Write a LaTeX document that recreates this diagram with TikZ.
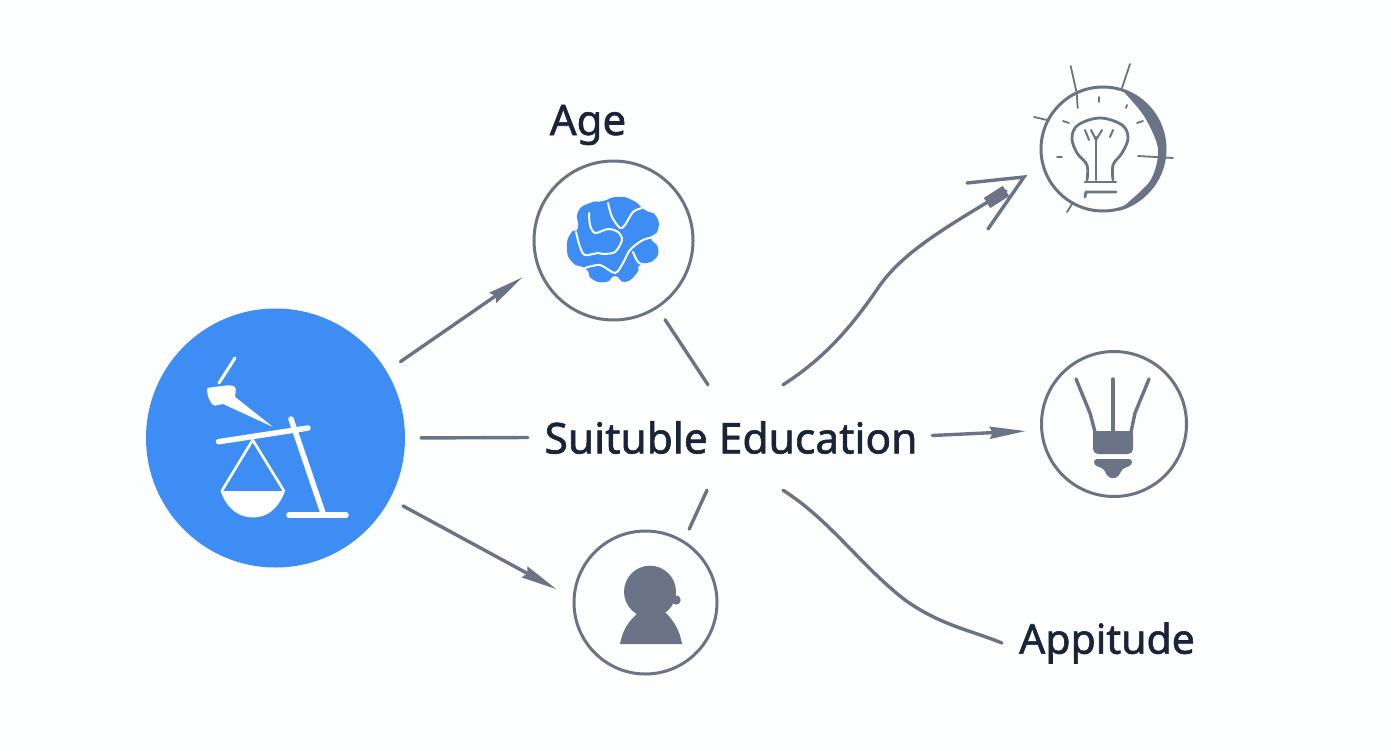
\documentclass[tikz,border=0pt]{standalone}
\usepackage{fontspec}
\setmainfont{Noto Sans}[FakeBold=1.4]
\usepackage{xcolor}
\usetikzlibrary{arrows.meta, positioning, calc}
\definecolor{bgcolor}{RGB}{253, 254, 254}
\definecolor{bluecolor}{RGB}{62, 141, 245}
\definecolor{linecolor}{RGB}{107, 116, 134}
\definecolor{textcolor}{RGB}{26, 36, 56}
\tikzset{
    ring/.style={draw=linecolor, line width=3pt, circle, inner sep=0pt, outer sep=0pt},
    link/.style={draw=linecolor, line width=3.4pt, line cap=round},
    linkarrow/.style={link, -{Stealth[length=36pt, width=12pt, inset=3pt]}},
    label/.style={text=textcolor, inner sep=0pt, font=\fontsize{42}{50}\selectfont},
    thinline/.style={draw=linecolor, line width=2.8pt, line cap=round, line join=round},
    wline/.style={draw=white, line cap=round}
}
\begin{document}
\begin{tikzpicture}[x=1pt, y=-1pt]
    \useasboundingbox (0, 0) rectangle (1392, 752);
    \fill[bgcolor] (0, 0) rectangle (1392, 752);

    % Nodes
    \node[circle, fill=bluecolor, inner sep=0pt, outer sep=0pt, minimum size=259pt] (scales) at (275.5, 438) {};
    \node[ring, minimum size=159pt] (age) at (613.5, 240.5) {};
    \node[ring, minimum size=143pt] (person) at (645.5, 602.5) {};
    \node[ring, minimum size=124pt] (bulbtop) at (1103, 149) {};
    \node[ring, minimum size=145pt] (bulbright) at (1114, 424) {};
    \node[label, font=\fontsize{42.5}{50}\selectfont, minimum width=402pt, minimum height=105pt] (edu) at (731, 437.5) {Suituble Education};
    \node[label] (agelabel) at (588, 125) {Age};
    \node[label, font=\fontsize{41}{50}\selectfont, inner xsep=17pt] (appitude) at (1107, 643) {Appitude};

    % Free ends on the text
    \coordinate (eduup) at ([xshift=-23pt]edu.north);
    \coordinate (eduupright) at ([xshift=52pt]edu.north);
    \coordinate (edudown) at ([xshift=-24pt]edu.south);
    \coordinate (edudownright) at ([xshift=52pt]edu.south);
    \coordinate (bulbtip) at (1024, 177);
    \coordinate (bulbblob) at (1006, 191);

    % Straight connectors
    \draw[linkarrow, shorten <=17pt, shorten >=19pt] (scales.31) -- (age.199);
    \draw[link, shorten <=16pt, shorten >=2pt] (scales.0) -- (edu.west);
    \draw[linkarrow, shorten <=15pt, shorten >=20pt] (scales.-28) -- (person.177);
    \draw[link, shorten <=15pt] (age.-57) -- (eduup);
    \draw[link, shorten <=14pt] (person.58) -- (edudown);
    \draw[linkarrow, shorten >=16pt] ([yshift=2pt]edu.east) -- (bulbright.185);

    % Curved connectors
    \draw[link] (eduupright) .. controls (825, 358) and (852, 326) .. (878, 288)
        .. controls (903, 251) and (950, 225) .. (bulbblob);
    \draw[link, line width=12pt, line cap=butt] (987, 203) -- (bulbblob);
    \draw[link, line join=miter] (967, 183) -- (bulbtip) -- (988, 229);
    \draw[link] (edudownright) .. controls (830, 520) and (860, 565) .. (905, 600)
        .. controls (940, 625) and (970, 630) .. (appitude.west);

    % Scales icon
    \draw[wline, line width=5.5pt] (218.5, 441.7) -- (308, 428);
    \draw[wline, line width=5.5pt] (291, 419) -- (323, 513);
    \draw[wline, line width=5.5pt] (289, 515) -- (346, 515);
    \draw[wline, line width=2.6pt] (221.7, 491) -- (252.7, 440) -- (284, 491);
    \fill[white] (220.7, 491) -- (285, 491) .. controls (278, 510) and (266, 517.5) .. (253, 517.5)
        .. controls (240, 517.5) and (227, 510) .. cycle;
    \fill[white, rounded corners=2pt] (206.7, 388) -- (230, 385) -- (236, 387) -- (235, 398) -- (223, 404)
        -- (213, 406) -- (208, 397) -- cycle;
    \fill[white] (234, 396) -- (273, 427) -- (221, 403) -- cycle;
    \draw[wline, line width=3pt] (219, 383) -- (235, 358);

    % Brain icon
    \fill[bluecolor] plot[smooth cycle, tension=1] coordinates {(617, 197) (632, 200) (645, 210) (656, 216)
        (658, 230) (651, 238) (658, 248) (654, 260) (640, 265) (637, 273) (625, 282) (615, 276)
        (606, 282) (592, 279) (586, 269) (572, 262) (567, 247) (571, 233) (578, 228) (578, 212) (590, 203) (603, 201)};
    \draw[wline, line width=2pt] plot[smooth] coordinates {(608, 203) (612, 217) (620, 228) (625, 225) (633, 212) (642, 208)};
    \draw[wline, line width=2pt] plot[smooth] coordinates {(589, 213) (590, 225) (595, 233) (608, 229) (618, 232)
        (622, 240) (615, 252) (603, 254) (598, 253) (585, 255) (580, 247) (576, 232)};
    \draw[wline, line width=2pt] plot[smooth] coordinates {(658, 236) (643, 240) (630, 250) (623, 263) (615, 273) (600, 265) (585, 268)};
    \draw[wline, line width=2pt] plot[smooth] coordinates {(633, 252) (638, 262) (645, 265)};

    % Lamp icon with rays
    \fill[linecolor] (bulbtop.72) arc[start angle=72, end angle=-75, radius=63pt]
        -- plot[smooth] coordinates {(1119, 210) (1150, 181) (1158, 149) (1144, 116) (1122, 90)} -- cycle;
    \draw[thinline, line width=1.8pt] (1070.7, 66) -- (1076.7, 93) -- (1077.7, 108);
    \draw[thinline, line width=1.8pt] (1130, 64) -- (1122, 88);
    \draw[thinline, line width=1.8pt] (1034, 117) -- (1047, 120);
    \draw[thinline, line width=1.8pt] (1138, 156) -- (1173, 158);
    \draw[thinline, line width=1.8pt] (1072, 204) -- (1067, 212);
    \foreach \ax/\ay/\bx/\by in {1099/97/1099/102, 1127/105/1126/108, 1063/121/1069/123, 1143/121/1137/123, 1057/157/1062/157} {
        \draw[thinline, line width=1.8pt] (\ax, \ay) -- (\bx, \by);
    }
    \draw[thinline] plot[smooth, tension=0.6] coordinates {(1087, 180) (1087, 165) (1077, 153) (1072, 138) (1078, 125)
        (1100, 118) (1122, 125) (1128, 138) (1122, 153) (1113, 165) (1113, 180)};
    \draw[thinline] (1085, 182) -- (1116, 182);
    \draw[thinline] (1085, 197) -- (1086, 192) -- (1116, 192);
    \draw[thinline] (1096, 137) -- (1096, 180);
    \draw[thinline, line width=2pt] (1085, 130) -- (1089, 140);
    \draw[thinline, line width=2pt] (1113, 130) -- (1110, 137);
    \draw[thinline, line width=2pt] (1091, 130) -- (1096, 140) -- (1102, 130);

    % Plug icon
    \draw[thinline, line width=3.4pt] (1076, 379) -- (1090, 413) -- (1095, 432);
    \draw[thinline, line width=3.4pt] (1113, 379) -- (1113, 432);
    \draw[thinline, line width=3.4pt] (1149, 379) -- (1135, 413) -- (1131, 432);
    \fill[linecolor, rounded corners=5pt] (1093, 431) -- (1133, 431) -- (1133, 454) -- (1093, 454) -- cycle;
    \fill[linecolor] (1093, 431) rectangle (1133, 441);
    \fill[linecolor, rounded corners=3pt] (1094, 459) -- (1132, 459) -- (1132, 465) -- (1122, 469) -- (1119, 476)
        -- (1113, 479) -- (1107, 476) -- (1104, 469) -- (1094, 465) -- cycle;

    % Person icon
    \fill[linecolor] (650, 591.7) circle (26pt);
    \fill[linecolor] (676, 600) circle (4.7pt);
    \fill[linecolor] (620, 644) .. controls (623, 628) and (630, 620) .. (638, 613) -- (666, 613)
        .. controls (675, 622) and (680, 632) .. (682, 644) -- cycle;
\end{tikzpicture}
\end{document}
